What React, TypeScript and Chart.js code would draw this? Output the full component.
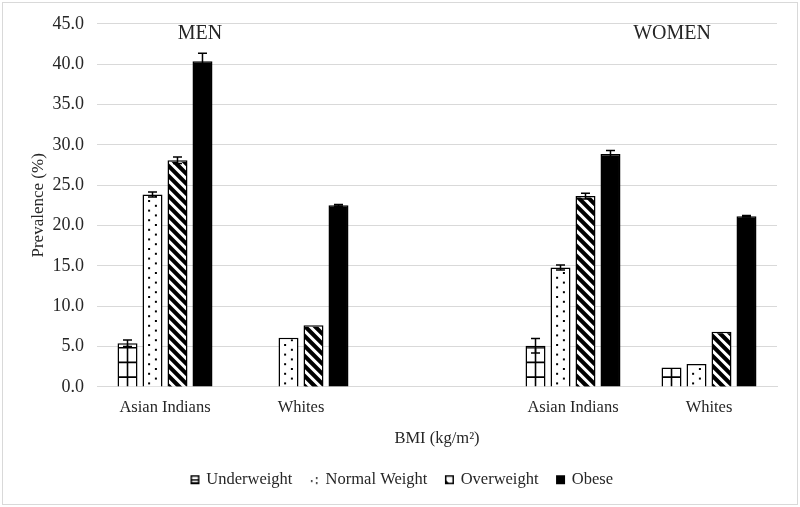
import React, { useEffect, useRef } from "react";
import { Chart, registerables } from "chart.js";

Chart.register(...registerables);

// ---- data ----
const categories = ["Asian Indians", "Whites", "", "Asian Indians", "Whites"];
const seriesNames = ["Underweight", "Normal Weight", "Overweight", "Obese"];
const underweight = [5.4, 0.05, null, 5.1, 2.4];
const underweightErr = [0.4, 0, 0, 0.9, 0];
const normalWeight = [23.85, 6.1, null, 14.8, 2.85];
const normalWeightErr = [0.3, 0, 0, 0.3, 0];
const overweight = [28.1, 7.65, null, 23.65, 6.85];
const overweightErr = [0.4, 0, 0, 0.35, 0];
const obese = [40.35, 22.5, null, 28.85, 21.15];
const obeseErr = [1.0, 0.1, 0, 0.45, 0.1];
const yMin = 0;
const yMax = 45;
const yStep = 5;
const groupLabels = ["MEN", "WOMEN"];
const groupLabelFrac = [0.1515, 0.8456];
const xTitle = "BMI (kg/m\u00B2)";
const yTitle = "Prevalence (%)";

const seriesValues = [underweight, normalWeight, overweight, obese];
const seriesErrors = [underweightErr, normalWeightErr, overweightErr, obeseErr];
const patternKinds = ["grid", "dots", "diag", "solid"];

const FONT = "'Liberation Serif', 'Times New Roman', serif";
const TEXT = "#262626";

function drawPattern(ctx: CanvasRenderingContext2D, kind: string, left: number, top: number, w: number, bottom: number) {
  ctx.save();
  ctx.beginPath();
  ctx.rect(left, top, w, bottom - top);
  ctx.clip();
  ctx.fillStyle = "#000";
  ctx.strokeStyle = "#000";
  if (kind === "grid") {
    ctx.lineWidth = 1.6;
    const cx = left + w / 2;
    ctx.beginPath();
    ctx.moveTo(cx, top);
    ctx.lineTo(cx, bottom);
    for (let y = bottom - 9.3; y > top; y -= 14.7) {
      ctx.moveTo(left, y);
      ctx.lineTo(left + w, y);
    }
    ctx.stroke();
  } else if (kind === "dots") {
    let r = 0;
    for (let y = bottom - 3; y > top; y -= 4.8) {
      const x = r % 2 === 0 ? left + w * 0.3 : left + w * 0.7;
      ctx.fillRect(x - 1, y - 1, 2, 2);
      r++;
    }
  } else if (kind === "diag") {
    ctx.lineWidth = 4.2;
    const h = bottom - top;
    ctx.beginPath();
    for (let k = -w - 20; k < h + 20; k += 10) {
      const y0 = bottom - k;
      ctx.moveTo(left - 5, y0 - w - 5);
      ctx.lineTo(left + w + 5, y0 + 5);
    }
    ctx.stroke();
  }
  ctx.restore();
}

function makeIcon(kind: string): HTMLCanvasElement {
  const c = document.createElement("canvas");
  c.width = 11;
  c.height = 11;
  const g = c.getContext("2d")!;
  g.fillStyle = "#000";
  g.strokeStyle = "#000";
  if (kind === "solid") {
    g.fillRect(1, 1, 9, 9);
  } else if (kind === "grid") {
    g.lineWidth = 1.5;
    g.strokeRect(1.75, 1.75, 7.5, 7.5);
    g.fillRect(1, 5, 9, 1.5);
    g.fillRect(1, 8, 9, 2);
  } else if (kind === "dots") {
    g.fillRect(2, 6, 1.6, 1.6);
    g.fillRect(7, 3, 1.6, 1.6);
    g.fillRect(7, 8, 1.6, 1.6);
  } else if (kind === "diag") {
    g.lineWidth = 1.5;
    g.strokeRect(1.75, 1.75, 7.5, 7.5);
    g.beginPath();
    g.moveTo(1, 5);
    g.lineTo(6, 10);
    g.lineTo(1, 10);
    g.closePath();
    g.fill();
  }
  return c;
}

const patternPlugin = {
  id: "patternBars",
  afterDatasetDraw(chart: any, args: any) {
    const i = args.index;
    const kind = patternKinds[i];
    if (kind === "solid") return;
    const ctx = chart.ctx;
    const meta = chart.getDatasetMeta(i);
    meta.data.forEach((el: any, j: number) => {
      const v = seriesValues[i][j];
      if (v == null || v < 0.5) return;
      const p = el.getProps(["x", "y", "base", "width"], true);
      const left = p.x - p.width / 2;
      const inset = 1.5;
      drawPattern(ctx, kind, left + inset, p.y + inset, p.width - 2 * inset, p.base);
    });
  },
};

const errorBarPlugin = {
  id: "errorBars",
  afterDatasetsDraw(chart: any) {
    const ctx = chart.ctx;
    const ys = chart.scales.y;
    ctx.save();
    ctx.strokeStyle = "#000";
    ctx.lineWidth = 1.5;
    seriesValues.forEach((vals, i) => {
      const meta = chart.getDatasetMeta(i);
      meta.data.forEach((el: any, j: number) => {
        const v = vals[j];
        const e = seriesErrors[i][j];
        if (v == null || !e) return;
        const x = el.x;
        const yt = ys.getPixelForValue(v + e);
        const yb = ys.getPixelForValue(v - e);
        ctx.beginPath();
        ctx.moveTo(x, yt);
        ctx.lineTo(x, yb);
        ctx.moveTo(x - 4.5, yt);
        ctx.lineTo(x + 4.5, yt);
        ctx.moveTo(x - 4.5, yb);
        ctx.lineTo(x + 4.5, yb);
        ctx.stroke();
      });
    });
    ctx.restore();
  },
};

const decorPlugin = {
  id: "decor",
  beforeDraw(chart: any) {
    const ctx = chart.ctx;
    ctx.save();
    ctx.fillStyle = "#fff";
    ctx.fillRect(0, 0, chart.width, chart.height);
    ctx.strokeStyle = "#d9d9d9";
    ctx.lineWidth = 1;
    ctx.strokeRect(2.5, 2.5, chart.width - 5, chart.height - 5);
    ctx.restore();
  },
  afterDraw(chart: any) {
    const ctx = chart.ctx;
    const a = chart.chartArea;
    ctx.save();
    ctx.fillStyle = TEXT;
    ctx.font = `20px ${FONT}`;
    ctx.textAlign = "center";
    ctx.textBaseline = "middle";
    groupLabels.forEach((t, k) => {
      ctx.fillText(t, a.left + groupLabelFrac[k] * (a.right - a.left), 34);
    });
    ctx.restore();
  },
};

export default function App() {
  const ref = useRef<HTMLCanvasElement>(null);
  useEffect(() => {
    document.body.style.margin = "0";
    const icons = patternKinds.map(makeIcon);
    const datasets = seriesNames.map((name, i) => ({
      label: name,
      data: seriesValues[i],
      backgroundColor: patternKinds[i] === "solid" ? "#000" : "#fff",
      borderColor: i === 0 ? (ctx: any) => (ctx.raw != null && ctx.raw < 0.5 ? "#bbb" : "#000") : "#000",
      borderWidth: 1.5,
      categoryPercentage: 0.735,
      barPercentage: 0.8,
      pointStyle: icons[i],
    }));
    const chart = new Chart(ref.current!, {
      type: "bar",
      data: { labels: categories, datasets },
      plugins: [decorPlugin, patternPlugin, errorBarPlugin],
      options: {
        responsive: false,
        animation: false,
        layout: { padding: { left: 28, right: 23, top: 14, bottom: 9 } },
        plugins: {
          tooltip: { enabled: false },
          legend: {
            position: "bottom",
            labels: {
              usePointStyle: true,
              pointStyleWidth: 6,
              padding: 19,
              color: TEXT,
              font: { family: FONT, size: 16.5 },
            },
          },
        },
        scales: {
          x: {
            grid: { display: false, drawTicks: false },
            border: { color: "#d9d9d9", width: 1 },
            ticks: { color: TEXT, font: { family: FONT, size: 16.5 }, padding: 11, maxRotation: 0, autoSkip: false },
            title: { display: true, text: xTitle, color: TEXT, font: { family: FONT, size: 16.5 }, padding: { top: 0, bottom: 4 } },
          },
          y: {
            min: yMin,
            max: yMax,
            grid: { color: "#d9d9d9", lineWidth: 1, drawTicks: false },
            border: { display: false },
            ticks: {
              stepSize: yStep,
              color: TEXT,
              font: { family: FONT, size: 18 },
              padding: 13,
              callback: (v: any) => Number(v).toFixed(1),
            },
            title: { display: true, text: yTitle, color: TEXT, font: { family: FONT, size: 17 }, padding: { top: 0, bottom: 0 } },
            afterFit: (s: any) => {
              s.width = 69;
            },
          },
        },
      },
    });
    return () => chart.destroy();
  }, []);
  return (
    <div style={{ width: 800, height: 507 }}>
      <canvas ref={ref} width={800} height={507} style={{ display: "block" }} />
    </div>
  );
}
